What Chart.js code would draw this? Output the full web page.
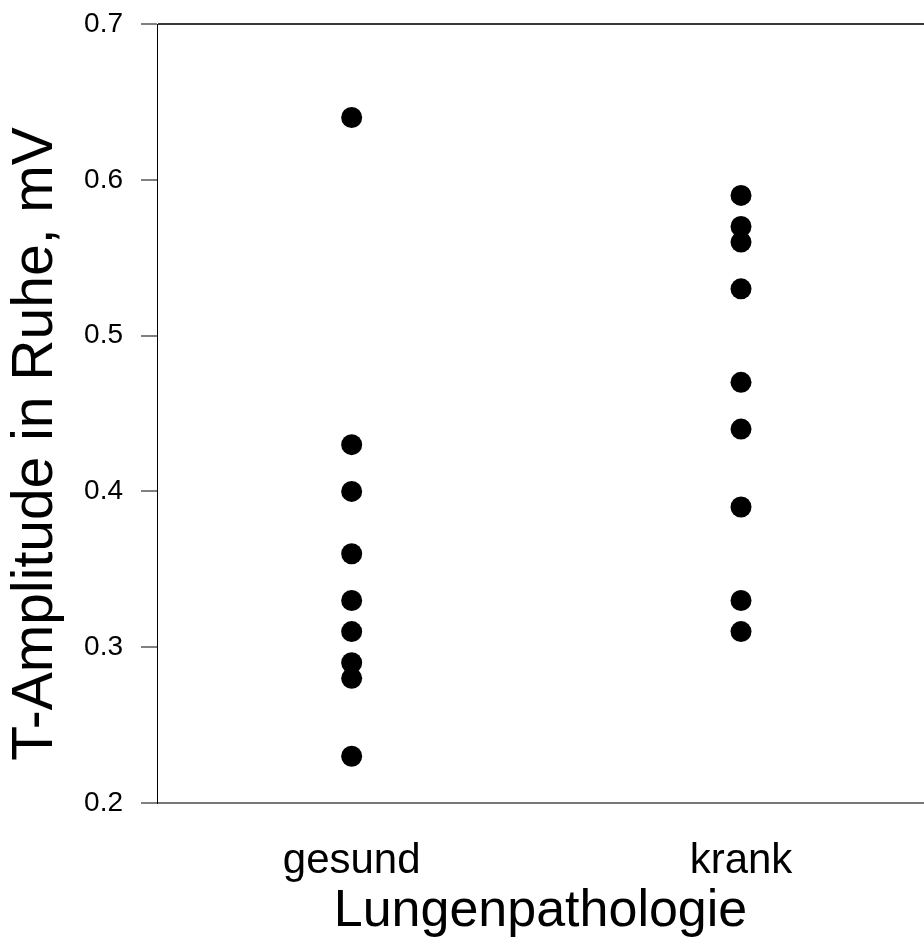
<!DOCTYPE html>
<html><head><meta charset="utf-8">
<script src="https://cdn.jsdelivr.net/npm/chart.js@4.4.0/dist/chart.umd.min.js"></script>
<style>html,body{margin:0;padding:0;background:#fff}#wrap{width:924px;height:943px}</style>
</head><body><div id="wrap"><canvas id="c" width="924" height="943"></canvas></div>
<script>
const categories = ['gesund', 'krank'];
const categoryPositions = [1, 2];
const gesundValues = [0.64, 0.43, 0.40, 0.36, 0.33, 0.31, 0.29, 0.28, 0.23];
const krankValues = [0.59, 0.57, 0.56, 0.53, 0.47, 0.44, 0.39, 0.33, 0.31];
const yTicks = [0.2, 0.3, 0.4, 0.5, 0.6, 0.7];
const yTitle = 'T-Amplitude in Ruhe, mV';
const xTitle = 'Lungenpathologie';

const FONT = '"Liberation Sans", Arial, Helvetica, sans-serif';

const yTitlePlugin = {
  id: 'yTitlePlugin',
  afterDraw(chart) {
    const ctx = chart.ctx;
    ctx.save();
    ctx.translate(36, 444);
    ctx.rotate(-Math.PI / 2);
    ctx.font = '57px ' + FONT;
    ctx.fillStyle = '#000';
    ctx.textAlign = 'center';
    ctx.textBaseline = 'middle';
    ctx.fillText(yTitle, 0, 0);
    ctx.restore();
  }
};

new Chart(document.getElementById('c'), {
  type: 'scatter',
  data: {
    datasets: [
      { label: categories[0], data: gesundValues.map(v => ({ x: categoryPositions[0], y: v })) },
      { label: categories[1], data: krankValues.map(v => ({ x: categoryPositions[1], y: v })) }
    ]
  },
  options: {
    responsive: false,
    animation: false,
    devicePixelRatio: 1,
    layout: { autoPadding: false, padding: { top: 24, right: 0, bottom: 0, left: 0 } },
    elements: {
      point: { radius: 10.5, backgroundColor: '#000', borderWidth: 0, pointStyle: 'circle' }
    },
    plugins: { legend: { display: false }, tooltip: { enabled: false } },
    scales: {
      x: {
        type: 'linear',
        min: 0.5,
        max: 2.47,
        afterBuildTicks: s => { s.ticks = categoryPositions.map(v => ({ value: v })); },
        afterFit: s => { s.height = 140; s.paddingLeft = 0; s.paddingRight = 0; },
        ticks: {
          callback: v => categories[categoryPositions.indexOf(v)],
          font: { family: FONT, size: 42 },
          color: '#000',
          padding: 33,
          maxRotation: 0,
          autoSkip: false
        },
        grid: { display: false, drawTicks: false },
        border: { display: false },
        title: {
          display: true,
          text: xTitle,
          font: { family: FONT, size: 52, lineHeight: 1.2 },
          color: '#000',
          padding: { top: 0, bottom: 0 }
        }
      },
      y: {
        min: 0.2,
        max: 0.7,
        afterBuildTicks: s => { s.ticks = yTicks.map(v => ({ value: v })); },
        afterFit: s => { s.width = 157; s.paddingTop = 0; s.paddingBottom = 0; },
        ticks: {
          callback: v => Number(v).toFixed(1),
          font: { family: FONT, size: 28 },
          color: '#000',
          padding: 18
        },
        grid: {
          color: ctx => {
            const v = ctx.tick ? ctx.tick.value : null;
            if (v !== null && Math.abs(v - 0.7) < 1e-9) return '#383838';
            if (v !== null && Math.abs(v - 0.2) < 1e-9) return '#777777';
            return 'rgba(0,0,0,0)';
          },
          lineWidth: 2,
          tickColor: '#808080',
          tickLength: 16,
          tickWidth: 2
        },
        border: { display: true, color: '#000', width: 1 }
      }
    }
  },
  plugins: [yTitlePlugin]
});
</script>
</body></html>
